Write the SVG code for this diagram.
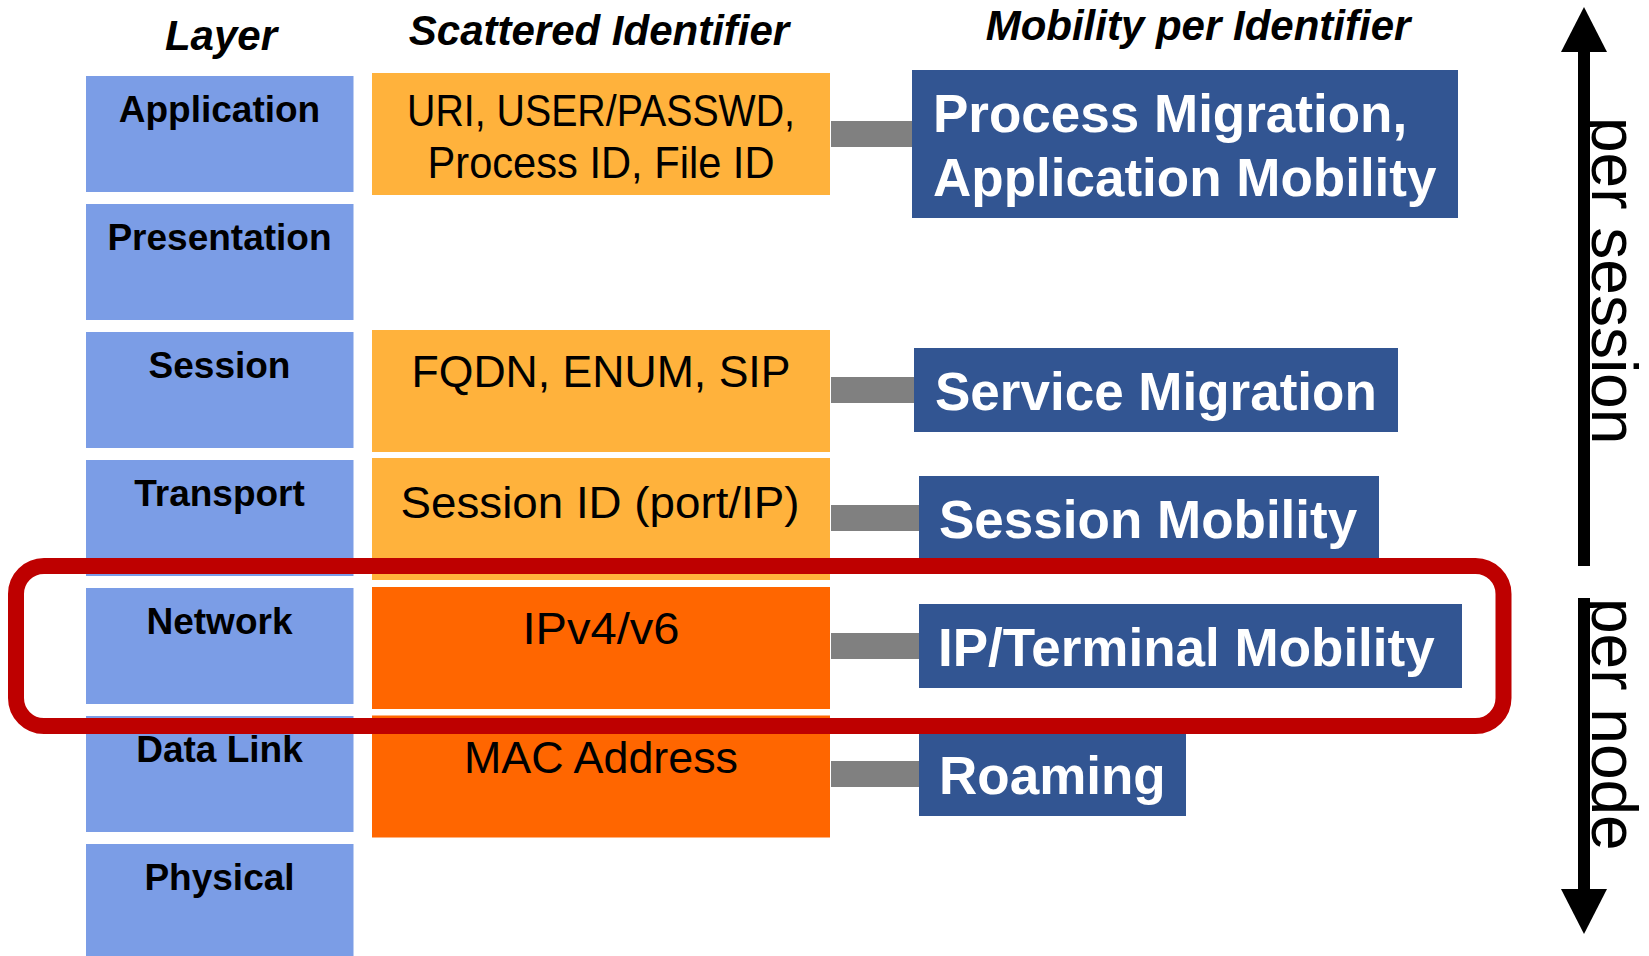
<svg xmlns="http://www.w3.org/2000/svg" width="1649" height="956" viewBox="0 0 1649 956">
  <style>
    .hdr { font-family: "Liberation Sans", Arial, sans-serif; font-weight: bold; font-style: italic; font-size: 42px; fill: #000; text-anchor: middle; }
    .layer rect { fill: #7B9DE6; }
    .layer text { font-family: "Liberation Sans", Arial, sans-serif; font-weight: bold; font-size: 37px; fill: #000; text-anchor: middle; }
    .ident text { font-family: "Liberation Sans", Arial, sans-serif; font-size: 44px; fill: #000; text-anchor: middle; }
    .light { fill: #FFB23C; }
    .dark { fill: #FF6600; }
    .mob rect { fill: #325592; }
    .mob text { font-family: "Liberation Sans", Arial, sans-serif; font-weight: bold; font-size: 53px; fill: #FFFFFF; }
    .bar { fill: #808080; }
    .scope { font-family: "Liberation Sans", Arial, sans-serif; font-size: 64px; fill: #000; }
  </style>

  <rect width="1649" height="956" fill="#FFFFFF"/>

  <!-- column headings -->
  <g id="headings">
    <text class="hdr" x="221" y="50">Layer</text>
    <text class="hdr" x="599" y="45">Scattered Identifier</text>
    <text class="hdr" x="1198" y="40">Mobility per Identifier</text>
  </g>

  <!-- OSI layer stack -->
  <g id="layer-application" class="layer"><rect x="86" y="76" width="267.5" height="116"/><text x="219.5" y="122">Application</text></g>
  <g id="layer-presentation" class="layer"><rect x="86" y="204" width="267.5" height="116"/><text x="219.5" y="250">Presentation</text></g>
  <g id="layer-session" class="layer"><rect x="86" y="332" width="267.5" height="116"/><text x="219.5" y="378">Session</text></g>
  <g id="layer-transport" class="layer"><rect x="86" y="460" width="267.5" height="116"/><text x="219.5" y="506">Transport</text></g>
  <g id="layer-network" class="layer"><rect x="86" y="588" width="267.5" height="116"/><text x="219.5" y="634">Network</text></g>
  <g id="layer-datalink" class="layer"><rect x="86" y="716" width="267.5" height="116"/><text x="219.5" y="762">Data Link</text></g>
  <g id="layer-physical" class="layer"><rect x="86" y="844" width="267.5" height="116"/><text x="219.5" y="890">Physical</text></g>

  <!-- identifiers per layer -->
  <g id="id-application" class="ident">
    <rect class="light" x="372" y="73" width="458" height="122"/>
    <text x="601" y="126" textLength="388" lengthAdjust="spacingAndGlyphs">URI, USER/PASSWD,</text>
    <text x="601" y="177.5" textLength="347" lengthAdjust="spacingAndGlyphs">Process ID, File ID</text>
  </g>
  <g id="id-session" class="ident">
    <rect class="light" x="372" y="330" width="458" height="122"/>
    <text x="601" y="387" textLength="379" lengthAdjust="spacingAndGlyphs">FQDN, ENUM, SIP</text>
  </g>
  <g id="id-transport" class="ident">
    <rect class="light" x="372" y="458" width="458" height="122"/>
    <text x="600" y="518" textLength="399" lengthAdjust="spacingAndGlyphs">Session ID (port/IP)</text>
  </g>
  <g id="id-network" class="ident">
    <rect class="dark" x="372" y="587" width="458" height="122"/>
    <text x="601" y="643.5" textLength="157" lengthAdjust="spacingAndGlyphs">IPv4/v6</text>
  </g>
  <g id="id-datalink" class="ident">
    <rect class="dark" x="372" y="715.5" width="458" height="122"/>
    <text x="601" y="773" textLength="274" lengthAdjust="spacingAndGlyphs">MAC Address</text>
  </g>

  <!-- identifier to mobility links -->
  <g id="connectors">
    <rect class="bar" x="831" y="121" width="82" height="26"/>
    <rect class="bar" x="831" y="377" width="84" height="26"/>
    <rect class="bar" x="831" y="505" width="89" height="26"/>
    <rect class="bar" x="831" y="633" width="89" height="26"/>
    <rect class="bar" x="831" y="761" width="89" height="26"/>
  </g>

  <!-- mobility kinds -->
  <g id="mob-process" class="mob">
    <rect x="912" y="70" width="546" height="148"/>
    <text x="933" y="131.5">Process Migration,</text>
    <text x="933" y="195.5">Application Mobility</text>
  </g>
  <g id="mob-service" class="mob">
    <rect x="914" y="348" width="484" height="84"/>
    <text x="935" y="409.5">Service Migration</text>
  </g>
  <g id="mob-session" class="mob">
    <rect x="919" y="476" width="460" height="84"/>
    <text x="939" y="537.5">Session Mobility</text>
  </g>
  <g id="mob-ip" class="mob">
    <rect x="919" y="604" width="543" height="84"/>
    <text x="938" y="666">IP/Terminal Mobility</text>
  </g>
  <g id="mob-roaming" class="mob">
    <rect x="919" y="734" width="267" height="82"/>
    <text x="939" y="794">Roaming</text>
  </g>

  <!-- highlight around the network layer -->
  <g id="highlight">
    <rect x="16" y="566" width="1487.5" height="160" rx="28" ry="28" fill="none" stroke="#BE0000" stroke-width="16"/>
  </g>

  <!-- scope axis -->
  <g id="axis-session">
    <rect x="1578" y="50" width="12" height="516" fill="#000"/>
    <polygon points="1584,7 1607,52 1561,52" fill="#000"/>
    <text class="scope" transform="translate(1592,117) rotate(90)">per session</text>
  </g>
  <g id="axis-node">
    <rect x="1578" y="598" width="12" height="292" fill="#000"/>
    <polygon points="1561,889 1607,889 1584,934" fill="#000"/>
    <text class="scope" transform="translate(1592,598) rotate(90)">per node</text>
  </g>
</svg>
